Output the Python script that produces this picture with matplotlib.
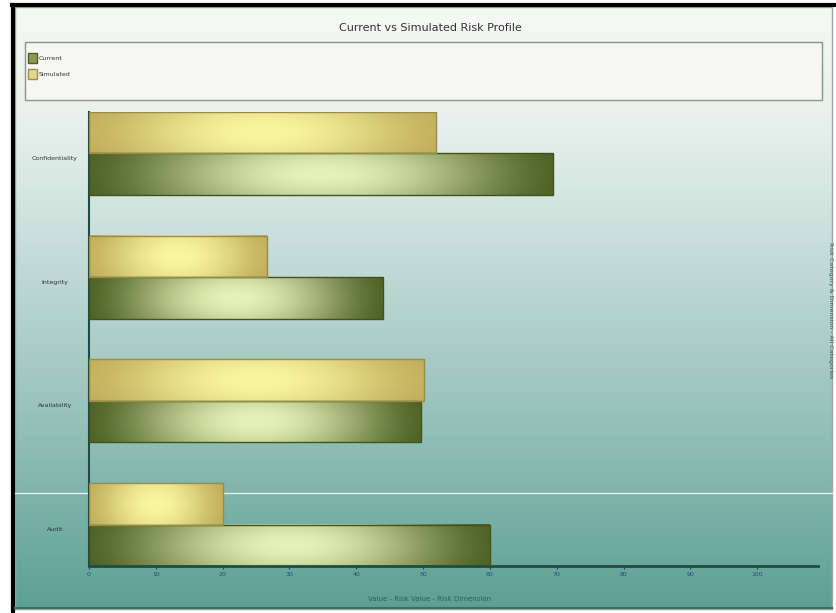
import numpy as np
import matplotlib
matplotlib.use('Agg')
from matplotlib import pyplot as plt
from matplotlib.patches import Rectangle
from matplotlib.transforms import blended_transform_factory

categories = ['Audit', 'Availability', 'Integrity', 'Confidentiality']
current = [60, 49.7, 44, 69.5]
simulated = [20, 50.1, 26.6, 52]
xticks = [0, 10, 20, 30, 40, 50, 60, 70, 80, 90, 100]

W, H = 837, 613
fig = plt.figure(figsize=(W / 100, H / 100), dpi=100)
fig.patch.set_facecolor('white')

# background panel with vertical gradient
bg = fig.add_axes([0, 0, 1, 1], zorder=-10)
bg.set_xlim(0, W)
bg.set_ylim(H, 0)
bg.axis('off')
ys = np.linspace(0, 1, 300)
top = np.array([246, 248, 244]) / 255
mid = np.array([234, 242, 238]) / 255
bot = np.array([92, 160, 148]) / 255
cols = np.zeros((300, 1, 3))
for i, t in enumerate(ys):
    py = 7 + t * (609 - 7)
    if py < 105:
        f = (py - 7) / 98
        c = top + (mid - top) * f
    else:
        f = ((py - 105) / (609 - 105)) ** 1.1
        c = mid + (bot - mid) * f
    cols[i, 0] = c
bg.imshow(cols, extent=(15, 832, 609, 7), aspect='auto', zorder=0)
bg.add_patch(Rectangle((15, 7), 817, 602, fill=False, ec='#9aa8a4', lw=1, zorder=1))
bg.plot([12, 837], [5, 5], color='black', lw=3, zorder=2)
bg.plot([13, 13], [5, 613], color='black', lw=3, zorder=2)
bg.plot([15, 832], [608, 608], color='#3c6e66', lw=1.5, zorder=2)

# legend box
bg.add_patch(Rectangle((25, 42), 797, 58, fc='#f6f7f2', ec='#8c9490', lw=1, zorder=2))
bg.add_patch(Rectangle((28, 53), 9, 10, fc='#8a9a50', ec='#4e5e25', lw=1, zorder=3))
bg.add_patch(Rectangle((28, 69), 9, 10, fc='#e2d890', ec='#9a9050', lw=1, zorder=3))
bg.text(39, 58, 'Current', fontsize=4.5, color='#333333', va='center', zorder=4)
bg.text(39, 74, 'Simulated', fontsize=4.5, color='#333333', va='center', zorder=4)

bg.text(430, 28, 'Current vs Simulated Risk Profile', fontsize=8, color='#333333',
        ha='center', va='center')
bg.text(430, 599, 'Value - Risk Value - Risk Dimension', fontsize=5, color='#2f5f5a',
        ha='center', va='center')
bg.text(831, 310, 'Risk Category & Dimension - All Categories', fontsize=4.5, color='#2f5f5a',
        ha='center', va='center', rotation=270)
bg.plot([15, 832], [493, 493], color='white', lw=1, alpha=0.8, zorder=5)

# main axes
ax = fig.add_axes([89 / W, 1 - 566 / H, (818 - 89) / W, (566 - 112) / H])
ax.patch.set_alpha(0)
h = 0.335
y = np.arange(len(categories))

bars_cur = ax.barh(y - h / 2, current, height=h, color='none', edgecolor='#43521d', lw=1, zorder=3)
bars_sim = ax.barh(y + h / 2, simulated, height=h, color='none', edgecolor='#9a8c48', lw=1, zorder=3)


def fill_gradient(bars, dark, light):
    dark = np.array(dark) / 255
    light = np.array(light) / 255
    n = 200
    xs = np.linspace(0, 1, n)
    prof = np.sin(np.pi * xs) ** 1.4
    vy = np.linspace(0, 1, 20)
    vprof = 0.85 + 0.15 * np.sin(np.pi * vy)
    img = np.zeros((20, n, 3))
    for j in range(20):
        c = dark[None, :] + (light - dark)[None, :] * prof[:, None]
        img[j] = c * vprof[j] + (1 - vprof[j]) * dark * 0.8
    for b in bars:
        x0, y0 = b.get_x(), b.get_y()
        ax.imshow(img, extent=(x0, x0 + b.get_width(), y0, y0 + b.get_height()),
                  aspect='auto', zorder=2, origin='lower')


fill_gradient(bars_cur, (82, 102, 40), (228, 244, 184))
fill_gradient(bars_sim, (198, 180, 95), (250, 246, 160))
ax.set_xlim(0, 109.1)
ax.set_ylim(-0.335, 3.335)

for s in ['top', 'right']:
    ax.spines[s].set_visible(False)
ax.spines['bottom'].set_color('#1f4a48')
ax.spines['bottom'].set_linewidth(2)
ax.spines['left'].set_color('#1f4a48')
ax.spines['left'].set_linewidth(1.5)
ax.set_xticks(xticks)
ax.set_xticklabels([str(v) for v in xticks], fontsize=4.5, color='#2a4a80')
ax.tick_params(axis='x', length=2, color='#1f4a48', pad=2)
ax.set_yticks([])

tr = blended_transform_factory(fig.transFigure, ax.transData)
for yi, c in zip(y, categories):
    fig.text(55 / W, yi - 0.04, c, transform=tr, fontsize=4.5, color='#333333',
             ha='center', va='center')

fig.savefig('out.png', dpi=100)
